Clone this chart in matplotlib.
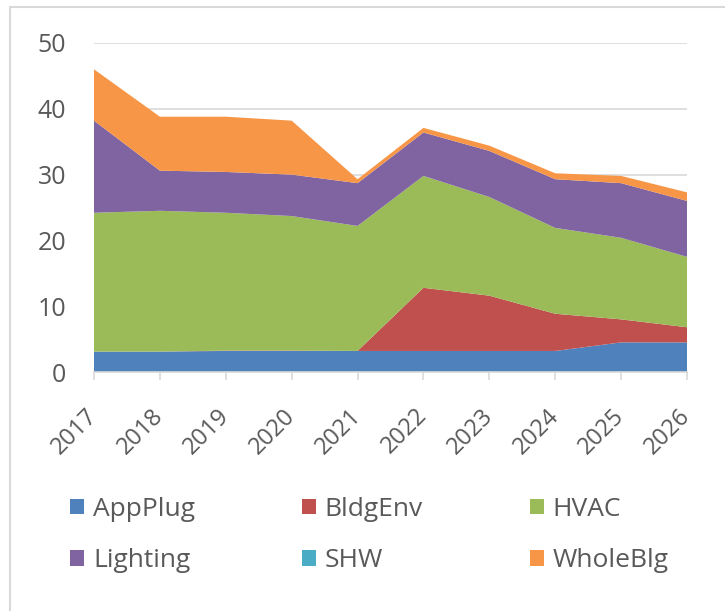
import matplotlib
matplotlib.use("Agg")
import matplotlib.pyplot as plt
from matplotlib.patches import Rectangle, Patch

years = ["2017", "2018", "2019", "2020", "2021", "2022", "2023", "2024", "2025", "2026"]
app_plug = [3.1, 3.1, 3.2, 3.2, 3.2, 3.2, 3.2, 3.2, 4.5, 4.5]
bldg_env = [0.0, 0.0, 0.05, 0.05, 0.0, 9.6, 8.4, 5.65, 3.5, 2.3]
hvac = [21.1, 21.4, 20.95, 20.45, 19.0, 17.0, 15.0, 13.05, 12.4, 10.7]
lighting = [14.0, 6.1, 6.2, 6.3, 6.5, 6.6, 7.0, 7.4, 8.3, 8.5]
shw = [0, 0, 0, 0, 0, 0, 0, 0, 0, 0]
whole_blg = [7.8, 8.2, 8.4, 8.2, 0.6, 0.7, 0.8, 0.9, 1.1, 1.3]

series_names = ["AppPlug", "BldgEnv", "HVAC", "Lighting", "SHW", "WholeBlg"]
colors = ["#4f81bd", "#c0504d", "#9bbb59", "#8064a2", "#4bacc6", "#f79646"]

plt.rcParams['font.family'] = ['Open Sans', 'DejaVu Sans']

fig = plt.figure(figsize=(7.25, 6.11), dpi=100)
ax = fig.add_axes([94/725, 1 - 372/611, (687 - 94)/725, (372 - 43)/611])

x = list(range(len(years)))
ax.stackplot(x, app_plug, bldg_env, hvac, lighting, shw, whole_blg,
             colors=colors, linewidth=0)

ax.set_xlim(0, len(years) - 1)
ax.set_ylim(0, 50)
ax.set_yticks([0, 10, 20, 30, 40, 50])
ax.yaxis.grid(True, color="#d9d9d9", linewidth=1.2)
ax.set_axisbelow(True)
for s in ["top", "right", "left"]:
    ax.spines[s].set_visible(False)
ax.spines["bottom"].set_color("#d9d9d9")
ax.spines["bottom"].set_linewidth(1.2)
ax.spines["bottom"].set_zorder(5)
ax.tick_params(axis="y", length=0, labelsize=18, labelcolor="#595959", pad=20)
ax.tick_params(axis="x", length=6, color="#d9d9d9", width=1.2,
               labelsize=17, labelcolor="#595959", pad=23)
ax.set_xticks(x)
ax.set_xticklabels(years, rotation=45, ha="right", va="center",
                   rotation_mode="anchor")

# legend filled row-major like the reference (matplotlib fills column-major)
order = [0, 3, 1, 4, 2, 5]
handles = [Patch(facecolor=colors[i], edgecolor="none") for i in order]
labels = [series_names[i] for i in order]
leg = fig.legend(handles, labels, loc="upper left", ncol=3,
                 bbox_to_anchor=(70/725, 1 - 497/611), frameon=False,
                 borderpad=0, borderaxespad=0, fontsize=19,
                 labelcolor="#595959",
                 handlelength=0.53, handleheight=0.53, handletextpad=0.34,
                 columnspacing=4.05, labelspacing=1.0)

fig.patches.append(Rectangle((10/725, -0.1), 1.2, 1 - 7/611 + 0.1,
                             transform=fig.transFigure, fill=False,
                             edgecolor="#d9d9d9", linewidth=1.5))

fig.savefig("out.png", dpi=100)
